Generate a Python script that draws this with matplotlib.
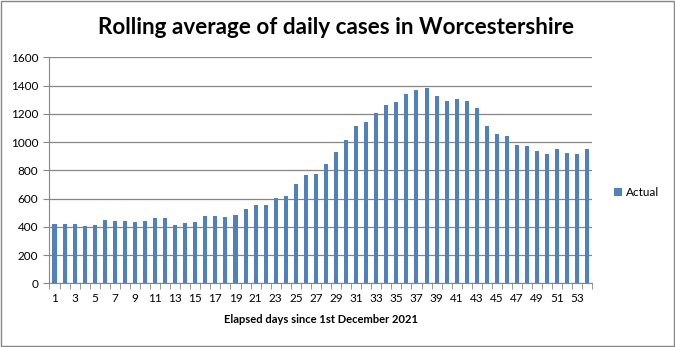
"""Rolling average of daily cases in Worcestershire - bar chart."""

import matplotlib
matplotlib.use('Agg')
import matplotlib.pyplot as plt
from matplotlib.patches import Rectangle
from matplotlib.ticker import FixedLocator, NullFormatter

days = list(range(1, 55))
actual = [420, 420, 420, 406, 413, 448, 441, 441, 434, 441,
          463, 463, 413, 430, 434, 477, 477, 470, 484, 526,
          555, 555, 602, 618, 703, 767, 774, 845, 930, 1015,
          1114, 1142, 1204, 1263, 1284, 1340, 1369, 1383, 1326, 1291,
          1305, 1291, 1241, 1114, 1057, 1043, 979, 972, 937, 916,
          951, 923, 916, 951]
yticks = list(range(0, 1601, 200))

plt.rcParams['font.family'] = ['Lato', 'DejaVu Sans']

fig = plt.figure(figsize=(6.75, 3.47), dpi=100)
ax = fig.add_axes([0.0733, 0.1836, 0.8044, 0.6513])

ax.bar(days, actual, width=0.4, color='#4F81BD', label='Actual', zorder=3)

ax.set_xlim(0.5, 54.5)
ax.set_ylim(0, 1600)
ax.set_yticks(yticks)
ax.set_yticklabels([str(v) for v in yticks])
ax.yaxis.grid(True, color='#868686', linewidth=0.9, zorder=0)

# labels on odd days, tick marks at category boundaries
ax.set_xticks(days[::2])
ax.set_xticklabels([str(d) for d in days[::2]])
ax.tick_params(axis='x', which='major', length=0, pad=7, labelsize=8.5)
ax.xaxis.set_minor_locator(FixedLocator([d + 0.5 for d in range(0, 55)]))
ax.xaxis.set_minor_formatter(NullFormatter())
ax.tick_params(axis='x', which='minor', length=4, color='#868686')
ax.tick_params(axis='y', length=4, color='#868686', labelsize=8.5, pad=4)

for side in ['top', 'right']:
    ax.spines[side].set_visible(False)
for side in ['left', 'bottom']:
    ax.spines[side].set_color('#868686')

fig.text(0.498, 0.922, 'Rolling average of daily cases in Worcestershire',
         ha='center', va='center', fontsize=16.2, fontweight='bold')
ax.set_xlabel('Elapsed days since 1st December 2021', fontsize=8,
              fontweight='bold', labelpad=7)

ax.legend(loc='center left', bbox_to_anchor=(1.02, 0.4), frameon=False,
          fontsize=8.5, handlelength=0.7, handleheight=0.7, handletextpad=0.3)

fig.patches.append(Rectangle((0.002, 0.003), 0.996, 0.994, transform=fig.transFigure,
                             fill=False, edgecolor='#868686', linewidth=1))

fig.savefig('out.png', dpi=100)
